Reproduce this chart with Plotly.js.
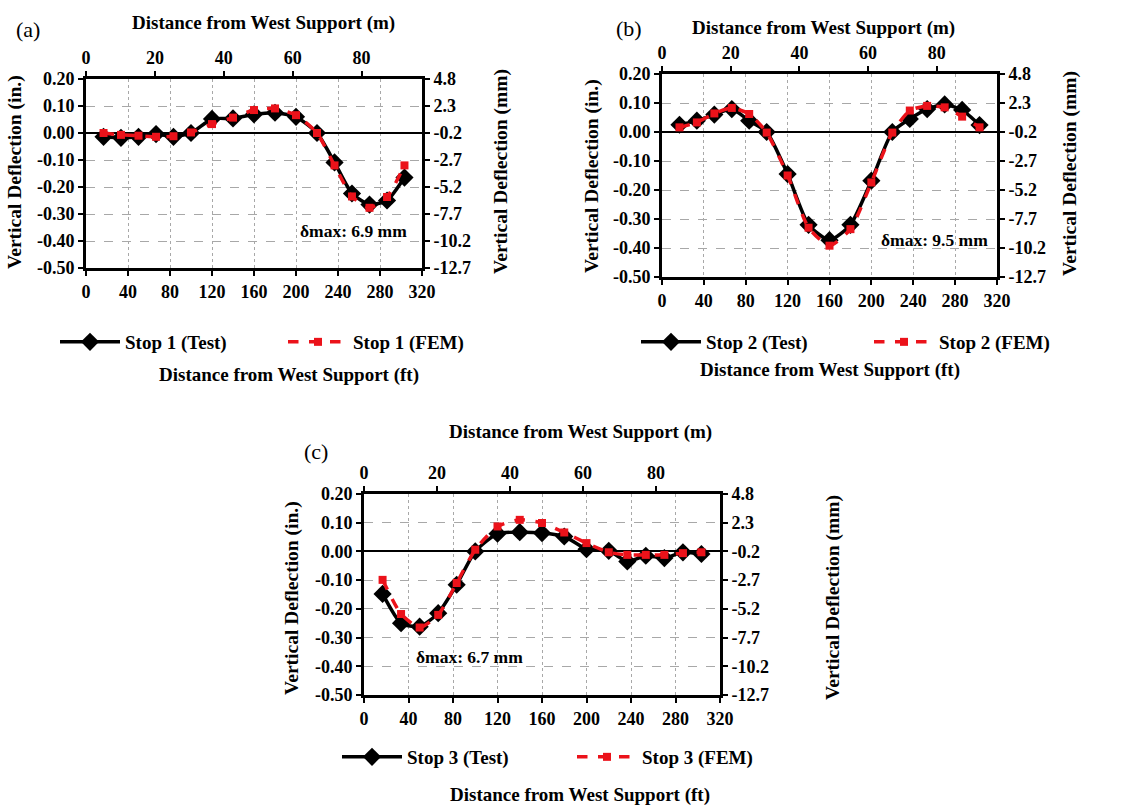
<!DOCTYPE html>
<html>
<head>
<meta charset="utf-8">
<script src="https://cdn.plot.ly/plotly-3.0.1.min.js"></script>
<style>html,body{margin:0;padding:0;background:#fff;}#chart{width:1126px;height:805px;}</style>
</head>
<body>
<div id="chart"></div>
<script>
// ---- data ----
const distanceFt = [16.7, 33.3, 50, 66.7, 83.3, 100, 120, 140, 160, 180, 200, 220, 236.7, 253.3, 270, 286.7, 303.3];

const stop1Test = [-0.014, -0.018, -0.014, -0.004, -0.014, 0.000, 0.052, 0.054, 0.069, 0.075, 0.060, 0.000, -0.109, -0.224, -0.265, -0.250, -0.165];
const stop1FEM  = [0.000, -0.007, -0.010, -0.014, -0.012, 0.002, 0.033, 0.057, 0.085, 0.091, 0.066, 0.000, -0.120, -0.235, -0.277, -0.237, -0.120];

const stop2Test = [0.025, 0.039, 0.060, 0.079, 0.039, 0.000, -0.145, -0.320, -0.373, -0.320, -0.168, 0.000, 0.045, 0.079, 0.095, 0.076, 0.024];
const stop2FEM  = [0.016, 0.033, 0.064, 0.083, 0.062, -0.002, -0.150, -0.330, -0.392, -0.335, -0.174, -0.002, 0.074, 0.090, 0.085, 0.053, 0.016];

const stop3Test = [-0.148, -0.250, -0.262, -0.215, -0.116, 0.000, 0.062, 0.067, 0.064, 0.052, 0.008, 0.002, -0.035, -0.015, -0.023, -0.003, -0.009];
const stop3FEM  = [-0.099, -0.218, -0.265, -0.221, -0.110, 0.006, 0.087, 0.110, 0.099, 0.066, 0.029, -0.003, -0.012, -0.012, -0.012, -0.006, -0.003];

const seriesNames = [["Stop 1 (Test)", "Stop 1 (FEM)"], ["Stop 2 (Test)", "Stop 2 (FEM)"], ["Stop 3 (Test)", "Stop 3 (FEM)"]];
const deltaMaxLabels = ["δmax: 6.9 mm", "δmax: 9.5 mm", "δmax: 6.7 mm"];
const panelLabels = ["(a)", "(b)", "(c)"];

const ftTicks = [0, 40, 80, 120, 160, 200, 240, 280, 320];
const mTicks = [0, 20, 40, 60, 80];
const inTickVals = [-0.5, -0.4, -0.3, -0.2, -0.1, 0, 0.1, 0.2];
const inTickText = ["-0.50", "-0.40", "-0.30", "-0.20", "-0.10", "0.00", "0.10", "0.20"];
const mmTickVals = [-12.7, -10.2, -7.7, -5.2, -2.7, -0.2, 2.3, 4.8];
const mmTickText = ["-12.7", "-10.2", "-7.7", "-5.2", "-2.7", "-0.2", "2.3", "4.8"];
const FT_TO_M = 0.3048;

// ---- layout helpers ----
const W = 1126, H = 805;
const px = x => x / W;
const py = y => 1 - y / H;
const FONT = "Liberation Serif, Times New Roman, serif";
const RED = "rgb(235,18,26)";

// panel geometry in pixels
const panels = [
  {box: [86, 422, 79, 268], label: [28, 30], topTitle: [263, 23], botTitle: [289, 375], leftTitle: [15, 172], rightTitle: [501, 172], dmax: [353, 231], legTest: [125, 342], legFem: [353, 342]},
  {box: [662, 997, 74, 277], label: [629, 28], topTitle: [823, 28], botTitle: [830, 370], leftTitle: [592, 176], rightTitle: [1070, 174], dmax: [935, 240], legTest: [706, 342], legFem: [939, 342]},
  {box: [364, 720, 494, 695], label: [316, 451], topTitle: [580, 432], botTitle: [580, 795], leftTitle: [292, 598], rightTitle: [833, 598], dmax: [469, 657], legTest: [407, 757], legFem: [642, 757]}
];
const testData = [stop1Test, stop2Test, stop3Test];
const femData = [stop1FEM, stop2FEM, stop3FEM];

const data = [];
const layout = {
  width: W, height: H,
  margin: {l: 0, r: 0, t: 0, b: 0},
  paper_bgcolor: "#fff", plot_bgcolor: "#fff",
  font: {family: FONT, color: "#000", size: 18},
  annotations: [],
  showlegend: true
};

const tickFont = {family: FONT, size: 18, color: "#000", weight: "bold"};
const LEG_ITEM_W = 60;
const LEG_TEXT_OFFSET = LEG_ITEM_W + 10;

panels.forEach((p, i) => {
  const n = 2 * i + 1;
  const m = 2 * i + 2;
  const xName = n === 1 ? "x" : "x" + n;
  const yName = n === 1 ? "y" : "y" + n;
  const x2Name = "x" + m, y2Name = "y" + m;
  const xKey = n === 1 ? "xaxis" : "xaxis" + n;
  const yKey = n === 1 ? "yaxis" : "yaxis" + n;
  const legA = n === 1 ? "legend" : "legend" + n;
  const legB = "legend" + m;
  const xd = [px(p.box[0]), px(p.box[1])];
  const yd = [py(p.box[3]), py(p.box[2])];

  data.push({
    type: "scatter", mode: "lines+markers", name: seriesNames[i][0],
    x: distanceFt, y: testData[i], xaxis: xName, yaxis: yName, legend: legA,
    line: {color: "#000", width: 3.5, shape: "spline", smoothing: 0.6},
    marker: {symbol: "diamond", size: 14, color: "#000"},
    hoverinfo: "skip"
  });
  data.push({
    type: "scatter", mode: "lines+markers", name: seriesNames[i][1],
    x: distanceFt, y: femData[i], xaxis: xName, yaxis: yName, legend: legB,
    line: {color: RED, width: 3.5, dash: "dash", shape: "spline", smoothing: 0.6},
    marker: {symbol: "square", size: 8, color: RED},
    hoverinfo: "skip"
  });
  data.push({type: "scatter", mode: "lines", x: [], y: [], xaxis: x2Name, yaxis: y2Name, showlegend: false, hoverinfo: "skip"});

  layout[xKey] = {
    domain: xd, anchor: yName, range: [0, 320], tickvals: ftTicks,
    showgrid: true, gridcolor: "#a8a8a8", gridwidth: 1, griddash: "dot",
    zeroline: false, showline: true, linecolor: "#000", linewidth: 3,
    ticks: "outside", ticklen: 5, tickwidth: 2, tickcolor: "#000",
    tickfont: tickFont, fixedrange: true
  };
  layout["xaxis" + m] = {
    overlaying: xName, anchor: y2Name, side: "top",
    range: [0, 320 * FT_TO_M], tickvals: mTicks,
    showgrid: false, zeroline: false, showline: true, linecolor: "#000", linewidth: 3,
    ticks: "outside", ticklen: 5, tickwidth: 2, tickcolor: "#000",
    tickfont: tickFont, fixedrange: true
  };
  layout[yKey] = {
    domain: yd, anchor: xName, range: [-0.5, 0.2],
    tickvals: inTickVals, ticktext: inTickText,
    showgrid: true, gridcolor: "#a8a8a8", gridwidth: 1, griddash: "dash",
    zeroline: true, zerolinecolor: "#000", zerolinewidth: 2,
    showline: true, linecolor: "#000", linewidth: 3,
    ticks: "outside", ticklen: 5, tickwidth: 2, tickcolor: "#000",
    tickfont: tickFont, fixedrange: true
  };
  layout["yaxis" + m] = {
    overlaying: yName, anchor: x2Name, side: "right",
    range: [-12.7, 4.8], tickvals: mmTickVals, ticktext: mmTickText,
    showgrid: false, zeroline: false, showline: true, linecolor: "#000", linewidth: 3,
    ticks: "outside", ticklen: 5, tickwidth: 2, tickcolor: "#000",
    tickfont: tickFont, fixedrange: true
  };
  const legStyle = pos => ({
    orientation: "v", x: px(pos[0] - LEG_TEXT_OFFSET), y: py(pos[1]),
    xanchor: "left", yanchor: "middle", itemwidth: LEG_ITEM_W,
    bgcolor: "rgba(0,0,0,0)", borderwidth: 0,
    font: {family: FONT, size: 19, color: "#000", weight: "bold"},
    itemclick: false, itemdoubleclick: false
  });
  layout[legA] = legStyle(p.legTest);
  layout[legB] = legStyle(p.legFem);

  const A = layout.annotations;
  const ann = (pos, text, extra) => A.push(Object.assign({
    xref: "paper", yref: "paper", x: px(pos[0]), y: py(pos[1]),
    xanchor: "center", yanchor: "middle", showarrow: false, text: text,
    font: {family: FONT, size: 19, color: "#000"}
  }, extra || {}));
  ann(p.label, panelLabels[i], {font: {family: FONT, size: 22, color: "#000"}});
  ann(p.topTitle, "<b>Distance from West Support (m)</b>");
  ann(p.botTitle, "<b>Distance from West Support (ft)</b>");
  ann(p.leftTitle, "<b>Vertical Deflection (in.)</b>", {textangle: -90, font: {family: FONT, size: 19.5, color: "#000"}});
  ann(p.rightTitle, "<b>Vertical Deflection (mm)</b>", {textangle: -90, font: {family: FONT, size: 19.5, color: "#000"}});
  ann(p.dmax, "<b>" + deltaMaxLabels[i] + "</b>", {font: {family: FONT, size: 17.5, color: "#000"}});
});

Plotly.newPlot("chart", data, layout, {staticPlot: true, displayModeBar: false});
</script>
</body>
</html>
